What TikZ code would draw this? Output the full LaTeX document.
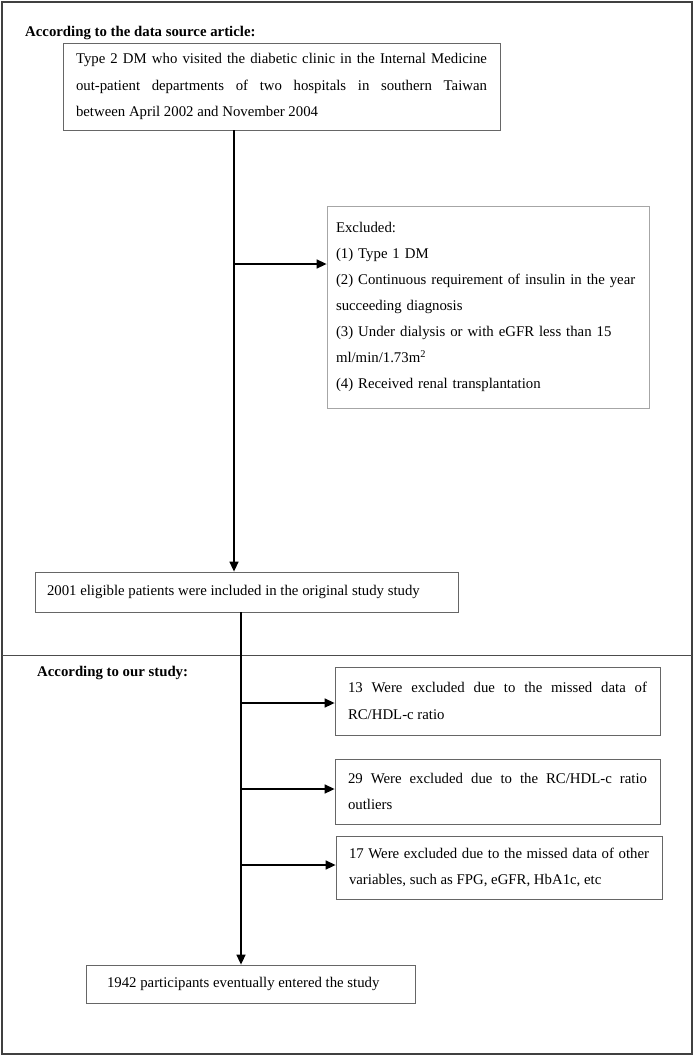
\documentclass[tikz,border=0pt]{standalone}
\usepackage{fontspec}
\setmainfont{Liberation Serif}
\usetikzlibrary{arrows.meta,positioning}
\tikzset
{
    flowbox/.style = {draw=black!60, line width=0.8pt, align=justify, inner xsep=13pt, inner ysep=0pt, font=\fontsize{14.8}{26.5}\selectfont},
    exclbox/.style = {flowbox, draw=black!35, align=left, inner xsep=9pt, font=\fontsize{14.8}{26}\selectfont},
    heading/.style = {anchor=west, inner sep=0pt, font=\fontsize{14.8}{18}\selectfont\bfseries},
    flow/.style    = {-{Triangle[length=10pt,width=9pt]}, line width=1.5pt}
}

\begin{document}
\begin{tikzpicture}[x=1pt, y=-1pt]
	\useasboundingbox (0,0) rectangle (697,1057);
\draw[black!75, line width=1.4pt] (2,2) rectangle (692,1054);

%% data source part
\node (hsrc)	[heading] 																		at (25,33) 			{According to the data source article:};
\node (src)		[flowbox, text width=411pt, minimum height=87pt] 		at (281.5,86.5) {Type 2 DM who visited the diabetic clinic in the Internal Medicine\linebreak out-patient departments of two hospitals in southern Taiwan\linebreak between April 2002 and November 2004};
\node (excl)	[exclbox, text width=304pt, minimum height=202pt] 	at (488,307) 		{Excluded:\\ (1) Type 1 DM\\ (2) Continuous requirement of insulin in the year\\ succeeding diagnosis\\ (3) Under dialysis or with eGFR less than 15\\ ml/min/1.73m\textsuperscript{2}\\ (4) Received renal transplantation};
\node (incl)	[flowbox, inner xsep=12pt, text width=399pt, minimum height=40pt] at (246.5,592) {2001 eligible patients were included in the original study study};

\coordinate (trunkA) at (234,0);
\coordinate (forkA)  at (234,264);
\path
(src.south -| trunkA) edge[flow] 	(incl.north -| trunkA)
(forkA) 							edge[flow] 	(excl.west |- forkA);

%% divider
\coordinate (divL) at (2,655);
\coordinate (divR) at (692,655);
\draw[black!70, line width=0.8pt] (divL) -- (divR);

%% our study part
\node (hour)	[heading] 																		at (37,673) 		{According to our study:};
\node (miss)	[flowbox, text width=299pt, minimum height=68pt] 		at (497.5,701) 	{13 Were excluded due to the missed data of\linebreak RC/HDL-c ratio};
\node (outl)	[flowbox, text width=299pt, minimum height=65pt] 		at (497.5,791.5) {29 Were excluded due to the RC/HDL-c ratio\linebreak outliers};
\node (othr)	[flowbox, text width=300pt, minimum height=63pt] 		at (499,867.5) 	{17 Were excluded due to the missed data of other\linebreak variables, such as FPG, eGFR, HbA1c, etc};
\node (final)	[flowbox, inner xsep=21pt, text width=287pt, minimum height=38pt] at (250.5,984) {1942 participants eventually entered the study};

\coordinate (trunkB) at (241,0);
\coordinate (forkB1) at (241,703);
\coordinate (forkB2) at (241,789);
\coordinate (forkB3) at (241,865);
\path
(incl.south -| trunkB) 	edge[flow] 	(final.north -| trunkB)
(forkB1) 								edge[flow] 	(miss.west |- forkB1)
(forkB2) 								edge[flow] 	(outl.west |- forkB2)
(forkB3) 								edge[flow] 	(othr.west |- forkB3);
	\end{tikzpicture}
\end{document}
